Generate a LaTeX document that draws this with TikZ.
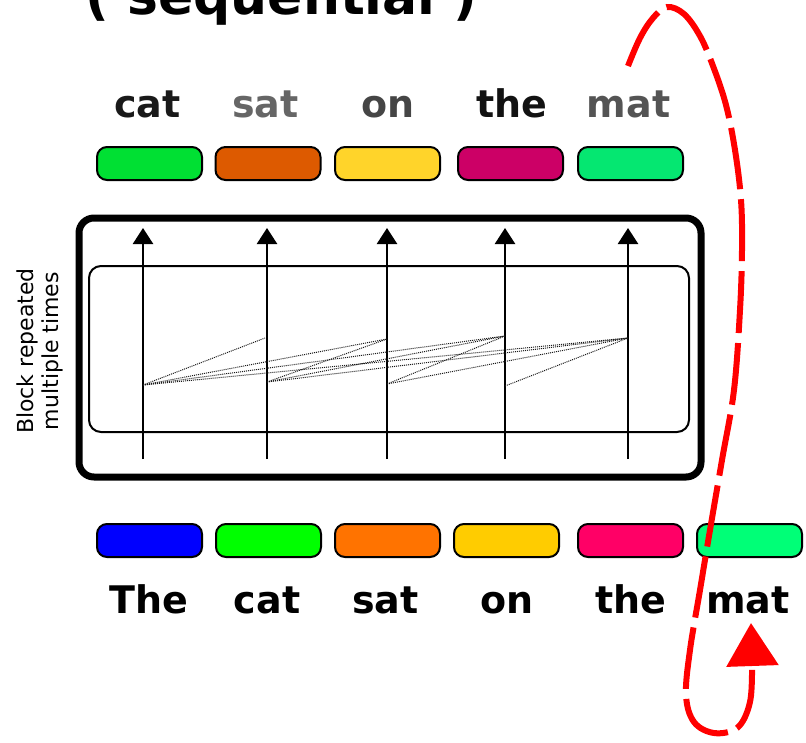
\documentclass[tikz,border=0pt]{standalone}
\usepackage{fontspec}
\setmainfont{DejaVu Sans}
\usepackage{tikz}
\usetikzlibrary{arrows.meta,arrows}
\usetikzlibrary{positioning}
\usetikzlibrary{calc, shapes, backgrounds}

\definecolor{ogreen}{HTML}{00E033}
\definecolor{oorange}{HTML}{DD5A00}
\definecolor{oyellow}{HTML}{FFD42A}
\definecolor{omagenta}{HTML}{CC0066}
\definecolor{omint}{HTML}{05E771}
\definecolor{iblue}{HTML}{0000FF}
\definecolor{igreen}{HTML}{00FF00}
\definecolor{iorange}{HTML}{FF7300}
\definecolor{iyellow}{HTML}{FFCC00}
\definecolor{ipink}{HTML}{FF0066}
\definecolor{imint}{HTML}{00FF77}
\definecolor{loopred}{HTML}{FF0000}

\begin{document}
\begin{tikzpicture}[x=1pt,y=-1pt]
\tikzstyle{tok node}=[rectangle,rounded corners=10pt,draw,line width=2pt,minimum width=105pt,minimum height=33pt,inner sep=0]
\tikzstyle{word node}=[font=\fontsize{38}{40}\selectfont\bfseries,anchor=base,inner sep=0]
\tikzstyle{side node}=[font=\fontsize{22}{25}\selectfont,align=center,rotate=90,inner sep=0]
\tikzset{
  block/.style = {rectangle,draw,line width=7pt,rounded corners=15pt,minimum width=622pt,minimum height=259pt,inner sep=0},
  layer/.style = {rectangle,draw,line width=2pt,rounded corners=12pt,minimum width=600pt,minimum height=166pt,inner sep=0},
  up arrow/.style = {-{Triangle[width=20pt,length=16pt]},line width=2.5pt},
  attn/.style = {densely dotted,line width=1pt,black!90},
  loop arrow/.style = {draw=loopred,line width=6pt,dash pattern=on 62pt off 10pt,-{Triangle[width=51pt,length=43pt]}}
}
\useasboundingbox (0,0) rectangle (806,742);

    \node[font=\fontsize{52}{54}\selectfont\bfseries,anchor=base] (title) at (281.5,14) {( sequential )};

    \node[word node, text=black!90]  (wo1) at (147.5,117) {cat};
    \node[word node, text=black!60]  (wo2) at (265.5,117) {sat};
    \node[word node, text=black!73]  (wo3) at (388,117)   {on};
    \node[word node, text=black!93]  (wo4) at (511.5,117) {the};
    \node[word node, text=black!67]  (wo5) at (628.5,117) {mat};

    \node[tok node, fill=ogreen]   (o1) at (149.5,163.5) {};
    \node[tok node, fill=oorange]  (o2) at (268,163.5)   {};
    \node[tok node, fill=oyellow]  (o3) at (387.5,163.5) {};
    \node[tok node, fill=omagenta] (o4) at (510.5,163.5) {};
    \node[tok node, fill=omint]    (o5) at (630.5,163.5) {};

    \node[block] (blk)   at (390,347.5) {};
    \node[layer] (layer) at (389,349)   {};
    \node[side node] (rep) at (40,351) {Block repeated\\multiple times};

    \node[tok node, fill=iblue]   (i1) at (149.5,540.5) {};
    \node[tok node, fill=igreen]  (i2) at (268.5,540.5) {};
    \node[tok node, fill=iorange] (i3) at (387.5,540.5) {};
    \node[tok node, fill=iyellow] (i4) at (506.5,540.5) {};
    \node[tok node, fill=ipink]   (i5) at (630.5,540.5) {};
    \node[tok node, fill=imint]   (i6) at (749.5,540.5) {};

    \node[word node] (wi1) at (148.5,613) {The};
    \node[word node] (wi2) at (267,613)   {cat};
    \node[word node] (wi3) at (385.5,613) {sat};
    \node[word node] (wi4) at (507,613)   {on};
    \node[word node] (wi5) at (631,613)   {the};
    \node[word node] (wi6) at (748,613)   {mat};
    %%%%%%%%%%%%%%%%%%%%%%%%%%%%%%%%%%%%%%%%%%
    \coordinate (b1) at (143,459); \coordinate (t1) at (143,228);
    \coordinate (b2) at (267,459); \coordinate (t2) at (267,228);
    \coordinate (b3) at (387,459); \coordinate (t3) at (387,228);
    \coordinate (b4) at (505,459); \coordinate (t4) at (505,228);
    \coordinate (b5) at (628,459); \coordinate (t5) at (628,228);

    \coordinate (k1) at (143,385);
    \coordinate (k2) at (267,382);
    \coordinate (k3) at (387,384);
    \coordinate (k4) at (505,386);
    \coordinate (q2) at (265,338);
    \coordinate (q3) at (387,339);
    \coordinate (q4) at (505,336);
    \coordinate (q5) at (628,338);

    \path[up arrow]
        (b1) edge (t1)
        (b2) edge (t2)
        (b3) edge (t3)
        (b4) edge (t4)
        (b5) edge (t5);

    \path[attn]
        (k1) edge (q2)
        (k1) edge (q3)
        (k1) edge (q4)
        (k1) edge (q5)
        (k2) edge (q3)
        (k2) edge (q4)
        (k2) edge (q5)
        (k3) edge (q4)
        (k3) edge (q5)
        (k4) edge (q5);

    % loop back from the last output to the next input
    \draw[loop arrow] plot[smooth,tension=0.6] coordinates {(628,66) (640,38) (653,18) (667,7) (684,14) (700,36) (713,66) (726,105) (735,150) (741,200) (742,250) (740,310) (734,390) (722,460) (710,530) (700,590) (690,650) (686,695) (694,722) (714,733) (737,728) (749,706) (752,675) (751,623)};
\end{tikzpicture}
\end{document}
